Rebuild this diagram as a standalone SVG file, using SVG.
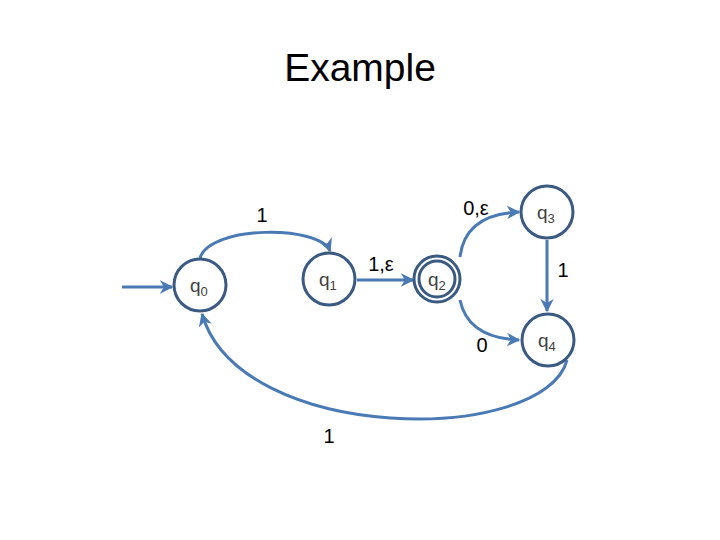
<svg xmlns="http://www.w3.org/2000/svg" width="720" height="540" viewBox="0 0 720 540">
<defs>
<marker id="ah" viewBox="0 0 10 10" refX="9" refY="5" markerWidth="4.5" markerHeight="4.5" orient="auto" markerUnits="strokeWidth">
<path d="M0,0 L10,5 L0,10 L3,5 Z" fill="#4a7ab4"/>
</marker>
</defs>
<style>
.st{fill:#fff;stroke:#3a5a82;stroke-width:3}
.ed{fill:none;stroke:#4a7ab4;stroke-width:3;marker-end:url(#ah)}
.ql{font-family:"Liberation Sans",Arial,sans-serif;font-size:19px;fill:#404040}
.sub{font-size:13px}
.lb{font-family:"Liberation Sans",Arial,sans-serif;font-size:20px;fill:#000}
.title{font-family:"Liberation Sans",Arial,sans-serif;font-size:39px;fill:#000}
</style>
<rect width="720" height="540" fill="#fff"/>
<text class="title" x="360" y="81" text-anchor="middle">Example</text>
<g id="connectors">
<path class="ed" d="M122,287 L172,287"/>
<path class="ed" d="M200,258 C210,225 320,225 330,251"/>
<path class="ed" d="M357,280 L413,280"/>
<path class="ed" d="M460,257 Q465,214 519,212"/>
<path class="ed" d="M460,300 Q468,338 519,340"/>
<path class="ed" d="M547,240 L547,311"/>
<path class="ed" d="M567,360 C545,445 240,445 202,314"/>
</g>
<g id="labels">
<text class="lb" x="262" y="222" text-anchor="middle">1</text>
<text class="lb" x="476" y="215" text-anchor="middle">0,ε</text>
<text class="lb" x="381" y="271" text-anchor="middle">1,ε</text>
<text class="lb" x="563" y="277" text-anchor="middle">1</text>
<text class="lb" x="482" y="352" text-anchor="middle">0</text>
<text class="lb" x="329" y="443" text-anchor="middle">1</text>
</g>
<g id="q0"><circle class="st" cx="200" cy="285" r="26"/><text class="ql" x="190" y="292">q<tspan class="sub" dy="4">0</tspan></text></g>
<g id="q1"><circle class="st" cx="329" cy="279" r="26"/><text class="ql" x="319" y="286">q<tspan class="sub" dy="4">1</tspan></text></g>
<g id="q2"><circle class="st" cx="437" cy="279" r="23"/><circle class="st" cx="437" cy="279" r="18"/><text class="ql" x="428" y="286">q<tspan class="sub" dy="4">2</tspan></text></g>
<g id="q3"><circle class="st" cx="547" cy="212" r="26"/><text class="ql" x="537" y="219">q<tspan class="sub" dy="4">3</tspan></text></g>
<g id="q4"><circle class="st" cx="548" cy="340" r="26"/><text class="ql" x="538" y="347">q<tspan class="sub" dy="4">4</tspan></text></g>
</svg>
